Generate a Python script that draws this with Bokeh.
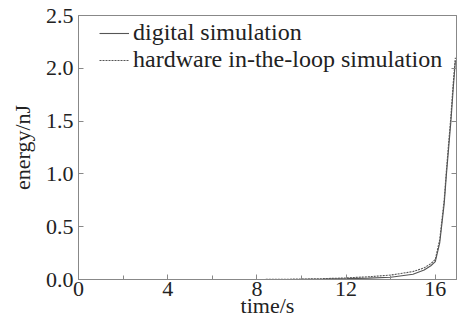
from bokeh.plotting import figure
from bokeh.models import Range1d, LinearAxis, Legend, LegendItem, FixedTicker
from bokeh.embed import file_html
from bokeh.resources import INLINE

# data
time_s = [1.0, 4.0, 8.0, 10.0, 11.0, 12.0, 13.0, 14.0, 15.0, 15.5, 15.8, 16.0, 16.2, 16.4, 16.5, 16.6, 16.7, 16.8, 16.9]
digital = [0.0, 0.0, 0.0, 0.002, 0.004, 0.008, 0.013, 0.022, 0.05, 0.09, 0.13, 0.17, 0.35, 0.72, 1.0, 1.25, 1.5, 1.8, 2.07]
hil = [0.0, 0.0, 0.0, 0.004, 0.008, 0.015, 0.026, 0.042, 0.075, 0.11, 0.15, 0.19, 0.38, 0.76, 1.04, 1.3, 1.55, 1.85, 2.1]
x_ticks = [0, 4, 8, 12, 16]
x_minor = [2, 6, 10, 14]
y_ticks = [0.0, 0.5, 1.0, 1.5, 2.0, 2.5]
y_labels = {0.0: "0.0", 0.5: "0.5", 1.0: "1.0", 1.5: "1.5", 2.0: "2.0", 2.5: "2.5"}

FONT = "Liberation Serif"
GRAY = "#555555"
FRAME = "#888888"

p = figure(width=457, height=320, output_backend="svg", toolbar_location=None,
           x_range=Range1d(0, 16.95), y_range=Range1d(0, 2.5),
           min_border_left=78, min_border_right=1, min_border_top=15, min_border_bottom=41)
p.outline_line_color = FRAME
p.outline_line_width = 1
p.grid.visible = False
p.background_fill_color = "white"
p.border_fill_color = "white"

r1 = p.line(time_s, digital, line_color=GRAY, line_width=1.1)
r2 = p.line(time_s, hil, line_color=GRAY, line_width=1.1, line_dash="2 1")

xa = p.xaxis[0]
xa.ticker = FixedTicker(ticks=x_ticks, minor_ticks=x_minor)
ya = p.yaxis[0]
ya.ticker = FixedTicker(ticks=y_ticks)
ya.major_label_overrides = {k: v for k, v in y_labels.items()}
xa.axis_label = "time/s"
ya.axis_label = "energy/nJ"

ra = LinearAxis(ticker=FixedTicker(ticks=y_ticks))
ra.major_label_text_font_size = "1px"
ra.major_label_text_color = None
ra.major_label_standoff = 0
p.add_layout(ra, "right")

for ax in (xa, ya, ra):
    ax.axis_line_color = FRAME
    ax.major_tick_in = 5
    ax.major_tick_out = 0
    ax.minor_tick_in = 4
    ax.minor_tick_out = 0
    ax.major_tick_line_color = FRAME
    ax.minor_tick_line_color = FRAME
    ax.major_label_text_font = FONT
    ax.axis_label_text_font = FONT
    ax.axis_label_text_font_size = "22px"
    ax.axis_label_text_font_style = "normal"
    ax.axis_label_text_color = "#222222"
for ax in (xa, ya):
    ax.major_label_text_font_size = "22px"
    ax.major_label_text_color = "#222222"
ya.minor_tick_in = 0
ra.minor_tick_in = 0
xa.major_label_standoff = 2
xa.axis_label_standoff = -6
ya.major_label_standoff = 5
ya.axis_label_standoff = 8

legend = Legend(items=[LegendItem(label="digital simulation", renderers=[r1]),
                       LegendItem(label="hardware in-the-loop simulation", renderers=[r2])])
legend.border_line_color = None
legend.background_fill_alpha = 0
legend.label_text_font = FONT
legend.label_text_font_size = "24px"
legend.label_text_color = "#222222"
legend.glyph_width = 30
legend.glyph_height = 22
legend.label_height = 22
legend.spacing = -3
legend.margin = 0
legend.padding = 0
legend.label_standoff = 4
legend.location = (21, 206)
p.add_layout(legend, "center")

with open("out.html", "w") as f:
    f.write(file_html(p, INLINE))
